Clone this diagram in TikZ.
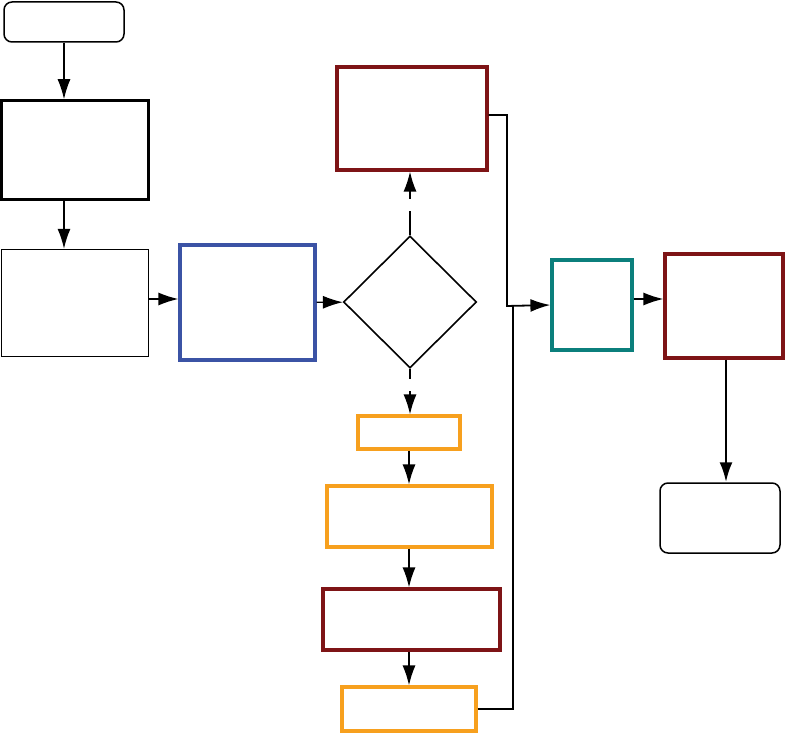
\documentclass[tikz,border=0pt]{standalone}
\usetikzlibrary{arrows.meta,shapes.geometric}
\definecolor{darkred}{HTML}{7E1416}
\definecolor{flowblue}{HTML}{3B53A5}
\definecolor{flowteal}{HTML}{0B7F7C}
\definecolor{floworange}{HTML}{F7A01E}

\begin{document}
\begin{tikzpicture}[x=1pt,y=-1pt,-{Latex[length=20pt,width=13pt]},line width=1.4pt,
  every node/.style={inner sep=0pt,anchor=center},
  term/.style={draw,rounded corners=8pt,line width=1.5pt},
  plain/.style={draw},
  colbox/.style={draw=#1,line width=3.2pt},
  decision/.style={draw,diamond,aspect=1,line width=1.6pt,minimum width=133pt,minimum height=132pt},
  gap/.style={fill=white,minimum width=8pt,minimum height=12pt}]
  \useasboundingbox (0,0) rectangle (785,733);
  \node[term,minimum width=120pt,minimum height=40pt] (start) at (64,22) {};
  \node[plain,line width=2.6pt,minimum width=147pt,minimum height=99pt] (read) at (75,150) {};
  \node[plain,line width=1.3pt,minimum width=147pt,minimum height=107pt] (prep) at (75,303) {};
  \node[colbox=flowblue,minimum width=135pt,minimum height=115pt] (proc) at (247.5,302.5) {};
  \node[decision] (check) at (410,302) {};
  \node[colbox=darkred,minimum width=150pt,minimum height=103pt] (fail) at (412,118.5) {};
  \node[colbox=floworange,minimum width=102pt,minimum height=33pt] (stepa) at (409,432.5) {};
  \node[colbox=floworange,minimum width=165pt,minimum height=61pt] (stepb) at (409.5,516.5) {};
  \node[colbox=darkred,minimum width=177pt,minimum height=61pt] (stepc) at (411.5,619.5) {};
  \node[colbox=floworange,minimum width=134pt,minimum height=44pt] (stepd) at (409,709) {};
  \node[colbox=flowteal,minimum width=80pt,minimum height=90pt] (merge) at (592,305) {};
  \node[colbox=darkred,minimum width=118pt,minimum height=104pt] (out) at (724,306) {};
  \node[term,minimum width=120pt,minimum height=70pt] (stop) at (720,518) {};
  \coordinate (jn) at (507,306);
  \coordinate (jn2) at (513,306);

  \draw (start) -- (start |- read.north);
  \draw (start |- read.south) -- (start |- prep.north);
  \draw ([yshift=4pt]prep.east) -- ([yshift=4pt]prep.east -| proc.west);
  \path (proc) edge (check);
  \draw (check.north) -- (check.north |- fail.south) node[gap,pos=0.47] {};
  \draw (check.south) -- (check.south |- stepa.north) node[gap,pos=0.35] {};
  \draw (stepa) -- (stepa |- stepb.north);
  \draw (stepa |- stepb.south) -- (stepa |- stepc.north);
  \draw (stepa |- stepc.south) -- (stepa |- stepd.north);
  \draw[line width=1.8pt] ([yshift=3.5pt]fail.east) -| (jn) -- (merge.west);
  \draw[-,line width=1.2pt] (stepd.east) -| (jn2);
  \draw ([yshift=6pt]merge.east) -- ([yshift=6pt]merge.east -| out.west);
  \draw[line width=2.6pt] ([xshift=2pt]out.south) -- ([xshift=2pt]out.south |- stop.north);
\end{tikzpicture}
\end{document}
